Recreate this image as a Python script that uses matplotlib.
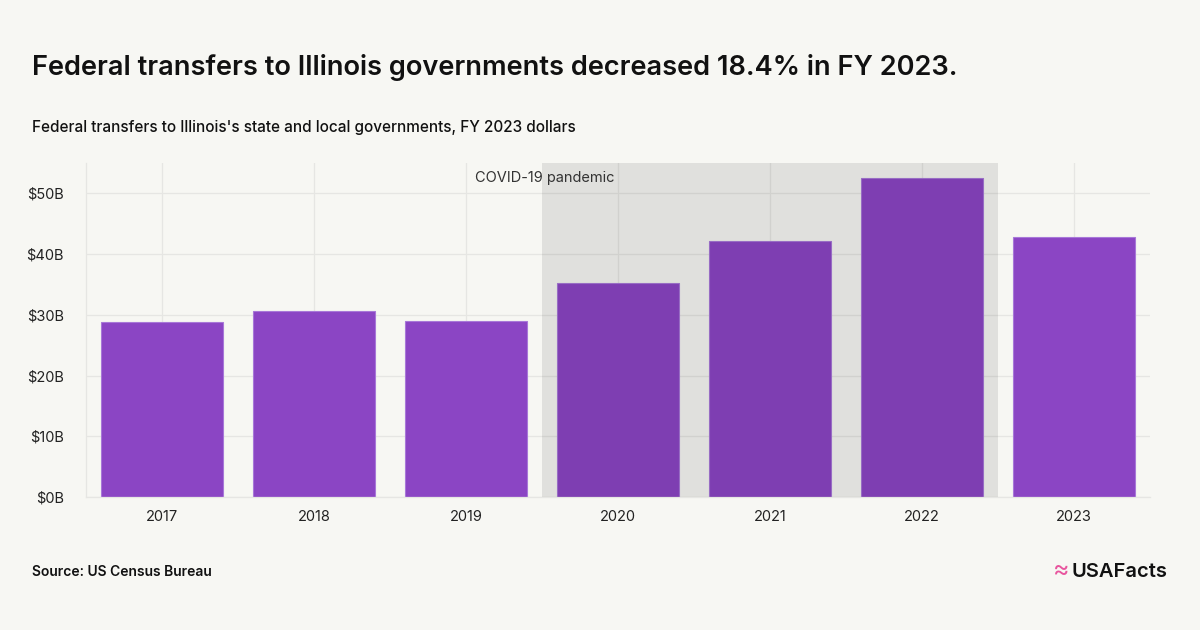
import matplotlib
matplotlib.use("Agg")
import matplotlib.pyplot as plt
from matplotlib.ticker import FuncFormatter

# ── Data ──────────────────────────────────────────────────────────────
years = ["2017", "2018", "2019", "2020", "2021", "2022", "2023"]
transfers_b = [28.8, 30.6, 28.9, 35.2, 42.1, 52.5, 42.8]
covid_span = (2.5, 5.5)  # category positions 2020–2022
y_ticks = [0, 10, 20, 30, 40, 50]

# ── Style ─────────────────────────────────────────────────────────────
BG = "#f7f7f3"
BAR = "#8b45c4"
GRID = "#e6e6e3"
plt.rcParams.update({
    "font.family": ["Inter", "DejaVu Sans"],
    "text.color": "#111111",
})

fig = plt.figure(figsize=(12, 6.3), dpi=100, facecolor=BG)
ax = fig.add_axes([0.0717, 0.2111, 0.8866, 0.5302], facecolor=BG)

x = range(len(years))
ax.bar(x, transfers_b, width=0.8, color=BAR, edgecolor="#a878d8",
       linewidth=0.8, zorder=2)
# translucent overlay for the pandemic years
ax.axvspan(*covid_span, color="black", alpha=0.09, lw=0, zorder=3)
ax.text(2.06, 53.7, "COVID-19 pandemic", fontsize=10.5, color="#333333",
        va="top", ha="left", zorder=4)

ax.set_xlim(-0.5, 6.5)
ax.set_ylim(0, 55)
ax.set_xticks(list(x))
ax.set_xticklabels(years)
ax.set_yticks(y_ticks)
ax.yaxis.set_major_formatter(FuncFormatter(lambda v, _: f"${v:.0f}B"))
ax.tick_params(length=0, labelsize=10.5, colors="#222222")
ax.tick_params(axis="y", pad=16)
ax.tick_params(axis="x", pad=9)
ax.grid(True, color=GRID, linewidth=0.9, zorder=0)
ax.set_axisbelow(True)
for s in ["top", "right"]:
    ax.spines[s].set_visible(False)
for s in ["left", "bottom"]:
    ax.spines[s].set_color(GRID)
    ax.spines[s].set_linewidth(0.9)

# ── Text ──────────────────────────────────────────────────────────────
fig.text(0.027, 0.893, "Federal transfers to Illinois governments decreased 18.4% in FY 2023.",
         fontsize=19.6, fontweight="semibold", va="center", ha="left")
fig.text(0.027, 0.797, "Federal transfers to Illinois's state and local governments, FY 2023 dollars",
         fontsize=11, fontweight="medium", va="center", ha="left")
fig.text(0.027, 0.092, "Source: US Census Bureau", fontsize=10,
         fontweight="semibold", va="center", ha="left")
fig.text(0.973, 0.092, "USAFacts", fontsize=14.5, fontweight="semibold",
         va="center", ha="right")
fig.text(0.884, 0.094, "\u2248", fontsize=18, color="#e8559e",
         va="center", ha="center")

fig.savefig("out.png", dpi=100, facecolor=BG)
